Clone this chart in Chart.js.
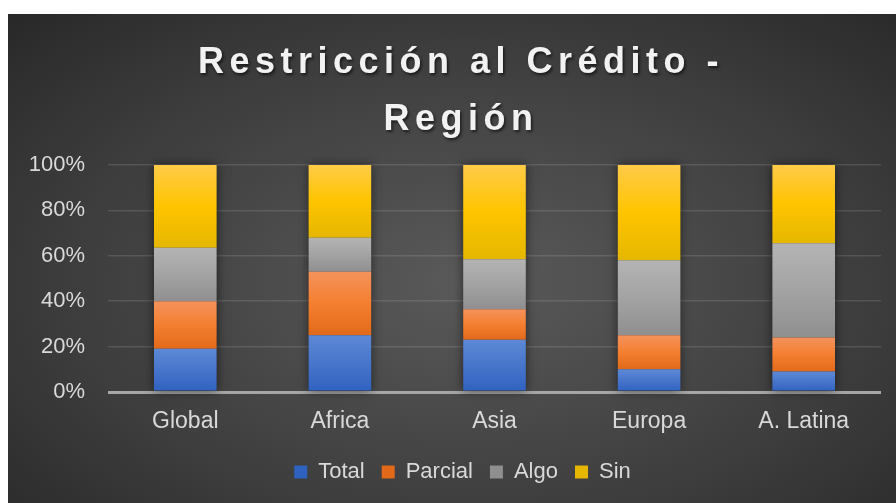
<!DOCTYPE html>
<html>
<head>
<meta charset="utf-8">
<script src="https://cdn.jsdelivr.net/npm/chart.js@4.4.1/dist/chart.umd.min.js"></script>
<style>
  html, body { margin: 0; padding: 0; background: #fff; }
  #wrap {
    position: absolute; left: 8px; top: 14px; width: 888px; height: 489px;
    background: radial-gradient(ellipse 75% 80% at 52% 55%, #5a5a5a 0%, #3d3d3d 60%, #272727 100%);
  }
</style>
</head>
<body>
<div id="wrap"><canvas id="myChart"></canvas></div>
<script>
const titleLines = ['Restricción al Crédito -', 'Región'];
const categories = ['Global', 'Africa', 'Asia', 'Europa', 'A. Latina'];
const seriesNames = ['Total', 'Parcial', 'Algo', 'Sin'];
const total   = [19, 25, 23, 10, 9];
const parcial = [21, 28, 13.5, 15, 15];
const algo    = [23.5, 15, 22, 33, 41.5];
const sin     = [36.5, 32, 41.5, 42, 34.5];
const yTicks  = [0, 20, 40, 60, 80, 100];

// top / mid / bottom colours of each series gradient
const shades = [
    ['#5d89d5', '#4775cb', '#2f61bf'],
    ['#f4925c', '#f47f30', '#e2691a'],
    ['#b4b4b4', '#a3a3a3', '#8f8f8f'],
    ['#ffcb48', '#ffc400', '#e5b700']
];
const series = [total, parcial, algo, sin];

function barFill(i) {
    return function(ctx) {
        const solid = shades[i][1];
        if (ctx.type !== 'data') return solid;
        const chart = ctx.chart;
        if (!chart.chartArea) return solid;
        const y = chart.scales.y;
        let bottom = 0;
        for (let k = 0; k < i; k++) bottom += series[k][ctx.dataIndex];
        const top = bottom + series[i][ctx.dataIndex];
        const g = chart.ctx.createLinearGradient(0, y.getPixelForValue(top), 0, y.getPixelForValue(bottom));
        g.addColorStop(0, shades[i][0]);
        g.addColorStop(0.5, shades[i][1]);
        g.addColorStop(1, shades[i][2]);
        return g;
    };
}

const barShadow = {
    id: 'barShadow',
    beforeDatasetsDraw(chart) {
        const first = chart.getDatasetMeta(0).data;
        const last = chart.getDatasetMeta(series.length - 1).data;
        const c = chart.ctx;
        c.save();
        c.shadowColor = 'rgba(0,0,0,0.55)';
        c.shadowBlur = 10;
        c.fillStyle = '#333';
        first.forEach((el, i) => {
            const t = last[i];
            c.fillRect(el.x - el.width / 2, t.y, el.width, el.base - t.y);
        });
        c.restore();
    }
};

const titleDraw = {
    id: 'titleDraw',
    afterDraw(chart) {
        const c = chart.ctx;
        c.save();
        c.font = 'bold 36px "Liberation Sans", Arial, sans-serif';
        c.fillStyle = '#f2f2f2';
        c.textAlign = 'center';
        c.textBaseline = 'alphabetic';
        c.letterSpacing = '5.5px';
        c.shadowColor = 'rgba(0,0,0,0.6)';
        c.shadowBlur = 3;
        c.shadowOffsetX = 1.5;
        c.shadowOffsetY = 2;
        c.fillText(titleLines[0], 453, 59);
        c.fillText(titleLines[1], 453, 116);
        c.restore();
    }
};

const legendShift = {
    id: 'legendShift',
    afterLayout(chart) {
        chart.legend.left += 18;
        chart.legend.right += 18;
    }
};

const font = { family: '"Liberation Sans", Arial, sans-serif', size: 22 };

const ctx = document.getElementById('myChart').getContext('2d');
const myChart = new Chart(ctx, {
    type: 'bar',
    data: {
        labels: categories,
        datasets: seriesNames.map((name, i) => ({
            label: name,
            data: series[i],
            backgroundColor: barFill(i),
            borderWidth: 0,
            categoryPercentage: 1,
            barPercentage: 0.405
        }))
    },
    options: {
        responsive: true,
        maintainAspectRatio: false,
        animation: false,
        layout: { padding: { top: 151, left: 0, right: 15, bottom: 10 } },
        scales: {
            x: {
                stacked: true,
                grid: { display: false },
                border: { display: false },
                ticks: { color: '#d9d9d9', font: { family: font.family, size: 23 }, padding: 8 },
                afterFit(scale) { scale.height = 52; }
            },
            y: {
                stacked: true,
                min: 0,
                max: 100,
                afterBuildTicks(scale) { scale.ticks = yTicks.map(v => ({ value: v })); },
                grid: {
                    drawTicks: false,
                    color: c => c.index === 0 ? '#a6a6a6' : 'rgba(255,255,255,0.12)',
                    lineWidth: c => c.index === 0 ? 3 : 1.5
                },
                border: { display: false },
                ticks: { color: '#d9d9d9', font: font, padding: 23, callback: v => v + '%' },
                afterFit(scale) { scale.width = 100; }
            }
        },
        plugins: {
            title: { display: false },
            tooltip: { enabled: false },
            legend: {
                position: 'bottom',
                labels: { color: '#d9d9d9', font: font, boxWidth: 13, boxHeight: 13, padding: 17 }
            }
        }
    },
    plugins: [barShadow, titleDraw, legendShift]
});
</script>
</body>
</html>
